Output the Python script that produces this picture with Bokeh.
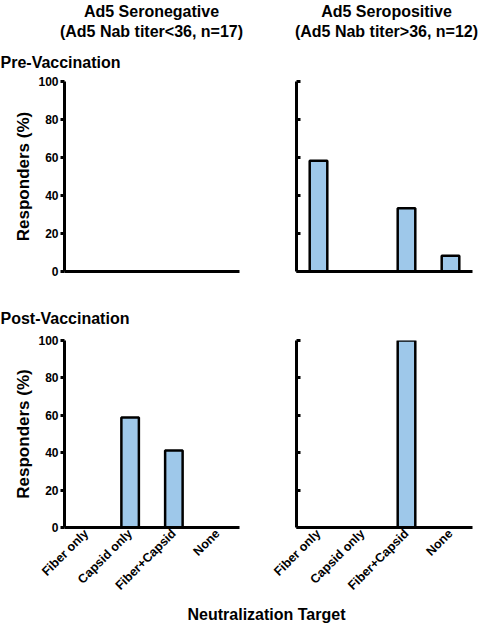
from math import pi
from bokeh.plotting import figure
from bokeh.layouts import column, row
from bokeh.models import ColumnDataSource, FactorRange, Range1d, FixedTicker, Label
from bokeh.embed import file_html
from bokeh.resources import INLINE

# ---- data ----
targets = ["Fiber only", "Capsid only", "Fiber+Capsid", "None"]
y_ticks = [0, 20, 40, 60, 80, 100]
pre_seroneg = [0, 0, 0, 0]
pre_seropos = [58.3, 0, 33.3, 8.3]
post_seroneg = [0, 58.8, 41.2, 0]
post_seropos = [0, 0, 100, 0]

col_title_neg = ["Ad5 Seronegative", "(Ad5 Nab titer<36, n=17)"]
col_title_pos = ["Ad5 Seropositive", "(Ad5 Nab titer>36, n=12)"]
row_titles = ["Pre-Vaccination", "Post-Vaccination"]
y_label = "Responders (%)"
x_label = "Neutralization Target"

FONT = "Liberation Sans"
BAR = "#9ec8ea"
W = 480


def strip(h):
    s = figure(width=W, height=h, x_range=Range1d(0, W), y_range=Range1d(0, h),
               output_backend="svg", toolbar_location=None, title=None,
               min_border=0, x_axis_type=None, y_axis_type=None)
    s.outline_line_color = None
    s.xgrid.visible = False
    s.ygrid.visible = False
    return s


def lab(s, x, y, text, size, align="center"):
    s.add_layout(Label(x=x, y=y, text=text, text_align=align, text_baseline="middle",
                       text_font=FONT, text_font_style="bold", text_font_size=size,
                       text_color="black"))


def panel(values, left, bottom_labels):
    w = 267 if left else 213
    h = 268 if bottom_labels else 208
    p = figure(width=w, height=h,
               x_range=FactorRange(factors=targets, range_padding=0),
               y_range=Range1d(0, 100),
               output_backend="svg", toolbar_location=None, title=None,
               min_border_left=64 if left else 29, min_border_right=28 if left else 8,
               min_border_top=8, min_border_bottom=70 if bottom_labels else 10)
    src = ColumnDataSource(dict(target=targets, value=values))
    p.vbar(x="target", top="value", width=0.4, source=src,
           fill_color=BAR, line_color="black", line_width=2.5)
    p.xgrid.visible = False
    p.ygrid.visible = False
    p.outline_line_color = None

    ya = p.yaxis[0]
    ya.ticker = FixedTicker(ticks=y_ticks)
    ya.axis_line_width = 3
    ya.axis_line_color = "black"
    ya.major_tick_line_width = 3
    ya.major_tick_line_color = "black"
    ya.minor_tick_line_color = None
    if left:
        ya.major_tick_out = 4
        ya.major_tick_in = 0
        ya.major_label_standoff = 2
        ya.major_label_text_font = FONT
        ya.major_label_text_font_style = "bold"
        ya.major_label_text_font_size = "12px"
        ya.major_label_text_color = "black"
        ya.axis_label = y_label
        ya.axis_label_text_font = FONT
        ya.axis_label_text_font_style = "bold"
        ya.axis_label_text_font_size = "17px"
        ya.axis_label_text_color = "black"
        ya.axis_label_standoff = 2
    else:
        ya.major_tick_out = 0
        ya.major_tick_in = 4
        ya.major_label_overrides = {t: "" for t in y_ticks}
        ya.major_label_text_color = None
        ya.major_label_standoff = 0

    xa = p.xaxis[0]
    xa.axis_line_width = 3
    xa.axis_line_color = "black"
    xa.major_tick_line_color = None
    xa.major_tick_out = 0
    xa.major_tick_in = 0
    xa.minor_tick_line_color = None
    if bottom_labels:
        xa.major_label_orientation = pi / 4
        xa.major_label_text_font = FONT
        xa.major_label_text_font_style = "bold"
        xa.major_label_text_font_size = "12.5px"
        xa.major_label_text_color = "black"
        xa.major_label_standoff = 4
    else:
        xa.major_label_overrides = {t: "" for t in targets}
        xa.major_label_text_color = None
        xa.major_label_standoff = 0
    return p


header = strip(73)
lab(header, 151, 62, col_title_neg[0], "16px")
lab(header, 151, 42, col_title_neg[1], "16px")
lab(header, 386, 62, col_title_pos[0], "16px")
lab(header, 386, 42, col_title_pos[1], "16px")
lab(header, 0, 11, row_titles[0], "16px", align="left")

mid = strip(51)
lab(mid, 0, 14, row_titles[1], "16px", align="left")

footer = strip(24)
lab(footer, 266, 10, x_label, "16px")

tl = panel(pre_seroneg, True, False)
tr = panel(pre_seropos, False, False)
bl = panel(post_seroneg, True, True)
br = panel(post_seropos, False, True)

layout = column(header, row(tl, tr), mid, row(bl, br), footer)

open("out.html", "w").write(file_html(layout, INLINE))
